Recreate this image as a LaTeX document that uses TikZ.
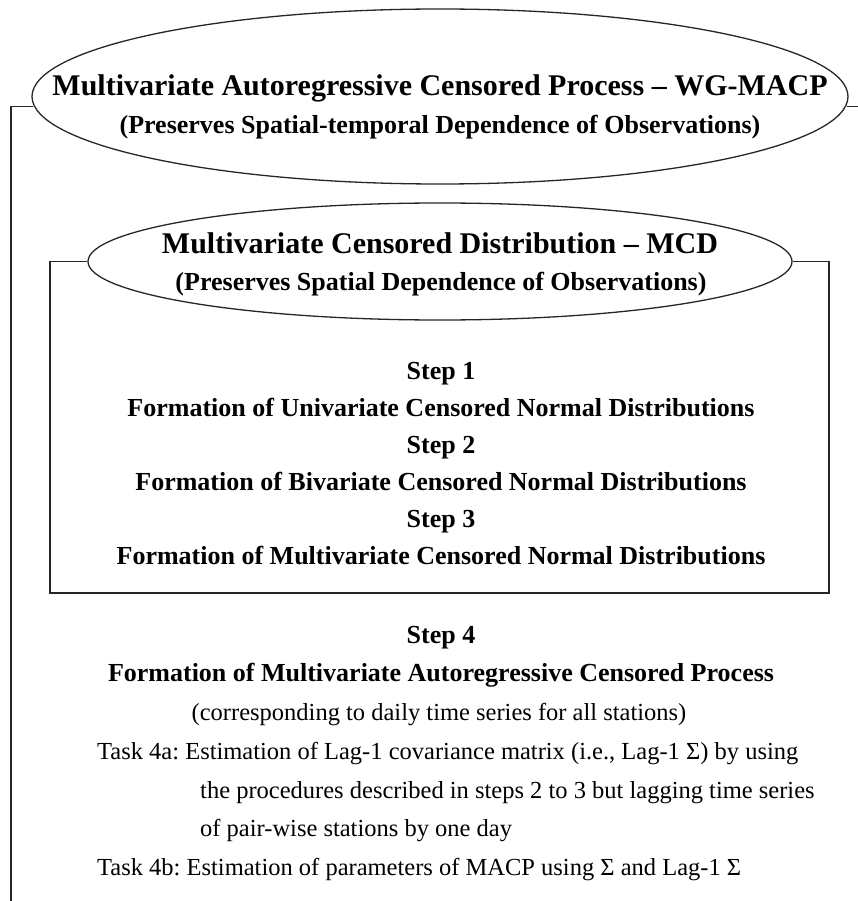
\documentclass[tikz,border=0pt]{standalone}
\usepackage{fontspec}
\setmainfont{Liberation Serif}
\usetikzlibrary{shapes.geometric}
\frenchspacing
\begin{document}
\begin{tikzpicture}[x=1pt,y=-1pt,
 frameline/.style={line width=1.3pt, black!85},
 ell/.style={ellipse, draw, line width=1.3pt, black!85, inner sep=0pt},
 ttl/.style={anchor=base, inner sep=0pt, font=\fontsize{30}{36}\selectfont\bfseries},
 sub/.style={anchor=base, inner sep=0pt, font=\fontsize{26}{31}\selectfont\bfseries},
 stp/.style={anchor=base, inner sep=0pt, font=\fontsize{26}{31}\selectfont\bfseries},
 txt/.style={anchor=base west, inner sep=0pt, font=\fontsize{24.5}{30}\selectfont},
 txtc/.style={anchor=base, inner sep=0pt, font=\fontsize{24.5}{30}\selectfont},
]
\useasboundingbox (0,0) rectangle (858,901);
% ellipses
\node[ell, minimum width=816pt, minimum height=175pt] (outer) at (440,96.5) {};
\node[ell, minimum width=704pt, minimum height=117pt] (inner) at (440,261.5) {};
% outer frame
\coordinate (fTL) at (11,106.5);
\coordinate (fBL) at (11,901);
\coordinate (fR) at (858,106.5);
\draw[frameline] (outer.181 |- fTL) -- (fTL) -- (fBL);
\draw[frameline] (outer.-1 |- fR) -- (fR);
% inner box
\coordinate (bTL) at (50,261.5);
\coordinate (bBL) at (50,593);
\coordinate (bBR) at (829,593);
\coordinate (bTR) at (829,261.5);
\draw[frameline] (inner.west) -- (bTL) -- (bBL) -- (bBR) -- (bTR) -- (inner.east);
% titles
\node[ttl] (t1) at (440,96) {Multivariate Autoregressive Censored Process – WG-MACP};
\node[sub] (t2) at (440,134) {(Preserves Spatial-temporal Dependence of Observations)};
\node[ttl] (m1) at (440,253) {Multivariate Censored Distribution – MCD};
\node[sub] (m2) at (441,290) {(Preserves Spatial Dependence of Observations)};
% steps 1-3
\node[stp] (s1) at (441,379) {Step 1};
\node[stp] (f1) at (441,416) {Formation of Univariate Censored Normal Distributions};
\node[stp] (s2) at (441,453) {Step 2};
\node[stp] (f2) at (441,490) {Formation of Bivariate Censored Normal Distributions};
\node[stp] (s3) at (441,527) {Step 3};
\node[stp] (f3) at (441,564) {Formation of Multivariate Censored Normal Distributions};
% step 4
\node[stp] (s4) at (441,643) {Step 4};
\node[stp] (f4) at (441,681) {Formation of Multivariate Autoregressive Censored Process};
\node[txtc] (c4) at (439,720) {(corresponding to daily time series for all stations)};
\node[txt] (ta) at (97,759) {Task 4a: Estimation of Lag-1 covariance matrix (i.e., Lag-1 Σ) by using};
\node[txt] (ta2) at (200,798) {the procedures described in steps 2 to 3 but lagging time series};
\node[txt] (ta3) at (200,836) {of pair-wise stations by one day};
\node[txt] (tb) at (97,875) {Task 4b: Estimation of parameters of MACP using Σ and Lag-1 Σ};
\end{tikzpicture}
\end{document}
